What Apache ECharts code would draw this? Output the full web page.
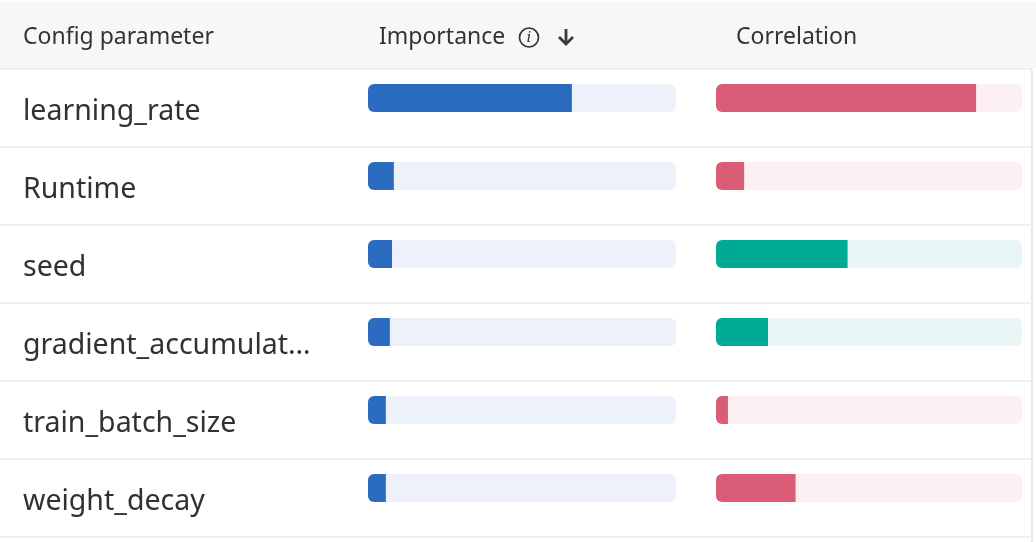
<!DOCTYPE html>
<html>
<head>
<meta charset="utf-8">
<script src="https://cdn.jsdelivr.net/npm/echarts@6/dist/echarts.min.js"></script>
<style>
  html, body { margin: 0; padding: 0; background: #fff; }
  #chart { width: 1036px; height: 542px; }
</style>
</head>
<body>
<div id="chart"></div>
<script>
// 参数重要性表
var chartDom = document.getElementById('chart');
var myChart = echarts.init(chartDom);

var params = ['learning_rate', 'Runtime', 'seed', 'gradient_accumulation_steps', 'train_batch_size', 'weight_decay'];
var importance = [0.662, 0.084, 0.078, 0.071, 0.058, 0.058];
// 正值为红色, 负值为绿色
var correlation = [0.85, 0.092, -0.43, -0.17, 0.039, 0.26];
var trackMax = [1, 1, 1, 1, 1, 1];

var font = 'Noto Sans';
var textColor = '#2f3136';

function hiddenAxis(gridIndex) {
  return {
    type: 'value', gridIndex: gridIndex, min: 0, max: 1,
    show: false
  };
}

function catAxis(gridIndex, extra) {
  return Object.assign({
    type: 'category', gridIndex: gridIndex, data: params, inverse: true,
    axisLine: { show: false }, axisTick: { show: false },
    axisLabel: { show: false }, splitLine: { show: false }
  }, extra || {});
}

var option = {
  animation: false,
  graphic: [
    { type: 'rect', z: -10, shape: { x: 0, y: 2, width: 1036, height: 66 }, style: { fill: '#f7f7f7' } },
    { type: 'line', shape: { x1: 1032, y1: 70, x2: 1032, y2: 542 }, style: { stroke: '#e8e8e8', lineWidth: 2 } },
    { type: 'text', x: 23, y: 37, style: { text: 'Config parameter', font: '23px "' + font + '"', fill: '#333', verticalAlign: 'middle' } },
    { type: 'text', x: 379, y: 37, style: { text: 'Importance', font: '23px "' + font + '"', fill: '#333', verticalAlign: 'middle' } },
    { type: 'circle', shape: { cx: 529, cy: 37.5, r: 9.5 }, style: { fill: 'none', stroke: '#333', lineWidth: 1.7 } },
    { type: 'text', x: 529, y: 38, style: { text: 'i', font: 'italic 15px "DejaVu Serif"', fill: '#333', align: 'center', verticalAlign: 'middle' } },
    { type: 'polyline', shape: { points: [[566, 29], [566, 44]] }, style: { stroke: '#3a3a3a', lineWidth: 2.8 } },
    { type: 'polyline', shape: { points: [[559, 37], [566, 44], [573, 37]] }, style: { stroke: '#3a3a3a', lineWidth: 2.8, fill: 'none' } },
    { type: 'text', x: 736, y: 37, style: { text: 'Correlation', font: '23px "' + font + '"', fill: '#333', verticalAlign: 'middle' } }
  ],
  grid: [
    { left: 368, width: 308, top: 59, height: 468 },
    { left: 716, width: 306, top: 59, height: 468 },
    { left: 23, width: 305, top: 73, height: 468 },
    { left: 0, width: 1032, top: 69, height: 468 }
  ],
  xAxis: [hiddenAxis(0), hiddenAxis(1), hiddenAxis(2), hiddenAxis(3)],
  yAxis: [
    catAxis(0),
    catAxis(1),
    catAxis(2, {
      axisLabel: {
        show: true, inside: true, align: 'left', margin: 0,
        fontFamily: font, fontSize: 28.5, color: textColor,
        width: 292, overflow: 'truncate', ellipsis: '…'
      }
    }),
    catAxis(3, {
      splitLine: { show: true, lineStyle: { color: '#efefef', width: 2 } }
    })
  ],
  series: [
    {
      type: 'bar', xAxisIndex: 0, yAxisIndex: 0, barWidth: 28, silent: true,
      data: trackMax,
      itemStyle: { color: '#edf2fa', borderRadius: 6 }
    },
    {
      type: 'bar', xAxisIndex: 0, yAxisIndex: 0, barWidth: 28, barGap: '-100%',
      data: importance,
      itemStyle: { color: '#2b6cc0', borderRadius: [6, 0, 0, 6] }
    },
    {
      type: 'bar', xAxisIndex: 1, yAxisIndex: 1, barWidth: 28, silent: true,
      data: trackMax.map(function (v, i) {
        return { value: v, itemStyle: { color: correlation[i] >= 0 ? '#fcf0f2' : '#e9f6f6' } };
      }),
      itemStyle: { borderRadius: 6 }
    },
    {
      type: 'bar', xAxisIndex: 1, yAxisIndex: 1, barWidth: 28, barGap: '-100%',
      data: correlation.map(function (v) {
        return { value: Math.abs(v), itemStyle: { color: v >= 0 ? '#da5c76' : '#00ab96' } };
      }),
      itemStyle: { borderRadius: [6, 0, 0, 6] }
    }
  ]
};

myChart.setOption(option);
</script>
</body>
</html>
